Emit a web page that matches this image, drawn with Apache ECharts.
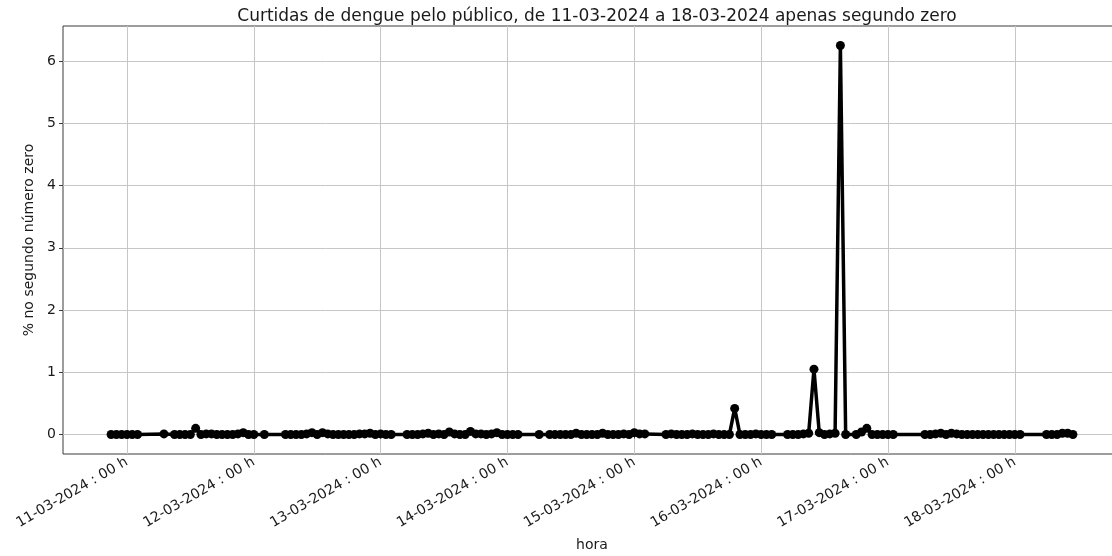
<!DOCTYPE html>
<html>
<head>
<meta charset="utf-8">
<script src="https://cdn.jsdelivr.net/npm/echarts@6/dist/echarts.min.js"></script>
<style>
  html, body { margin: 0; padding: 0; background: #ffffff; }
  #chart { width: 1112px; height: 556px; }
</style>
</head>
<body>
<div id="chart"></div>
<script>
// Hourly readings, "DD-MM-YYYY HH", with the night hours that have no data left out.
const horas = [
  '10-03-2024 21','10-03-2024 22','10-03-2024 23','11-03-2024 00','11-03-2024 01','11-03-2024 02',
  '11-03-2024 07',
  '11-03-2024 09','11-03-2024 10','11-03-2024 11','11-03-2024 12','11-03-2024 13','11-03-2024 14',
  '11-03-2024 15','11-03-2024 16','11-03-2024 17','11-03-2024 18','11-03-2024 19','11-03-2024 20',
  '11-03-2024 21','11-03-2024 22','11-03-2024 23','12-03-2024 00',
  '12-03-2024 02',
  '12-03-2024 06','12-03-2024 07','12-03-2024 08','12-03-2024 09','12-03-2024 10','12-03-2024 11',
  '12-03-2024 12','12-03-2024 13','12-03-2024 14','12-03-2024 15','12-03-2024 16','12-03-2024 17',
  '12-03-2024 18','12-03-2024 19','12-03-2024 20','12-03-2024 21','12-03-2024 22','12-03-2024 23',
  '13-03-2024 00','13-03-2024 01','13-03-2024 02',
  '13-03-2024 05','13-03-2024 06','13-03-2024 07','13-03-2024 08','13-03-2024 09','13-03-2024 10',
  '13-03-2024 11','13-03-2024 12','13-03-2024 13','13-03-2024 14','13-03-2024 15','13-03-2024 16',
  '13-03-2024 17','13-03-2024 18','13-03-2024 19','13-03-2024 20','13-03-2024 21','13-03-2024 22',
  '13-03-2024 23','14-03-2024 00','14-03-2024 01','14-03-2024 02',
  '14-03-2024 06',
  '14-03-2024 08','14-03-2024 09','14-03-2024 10','14-03-2024 11','14-03-2024 12','14-03-2024 13',
  '14-03-2024 14','14-03-2024 15','14-03-2024 16','14-03-2024 17','14-03-2024 18','14-03-2024 19',
  '14-03-2024 20','14-03-2024 21','14-03-2024 22','14-03-2024 23','15-03-2024 00','15-03-2024 01',
  '15-03-2024 02',
  '15-03-2024 06','15-03-2024 07','15-03-2024 08','15-03-2024 09','15-03-2024 10','15-03-2024 11',
  '15-03-2024 12','15-03-2024 13','15-03-2024 14','15-03-2024 15','15-03-2024 16','15-03-2024 17',
  '15-03-2024 18','15-03-2024 19','15-03-2024 20','15-03-2024 21','15-03-2024 22','15-03-2024 23',
  '16-03-2024 00','16-03-2024 01','16-03-2024 02',
  '16-03-2024 05','16-03-2024 06','16-03-2024 07','16-03-2024 08','16-03-2024 09','16-03-2024 10',
  '16-03-2024 11','16-03-2024 12','16-03-2024 13','16-03-2024 14','16-03-2024 15','16-03-2024 16',
  '16-03-2024 18','16-03-2024 19','16-03-2024 20','16-03-2024 21','16-03-2024 22','16-03-2024 23',
  '17-03-2024 00','17-03-2024 01',
  '17-03-2024 07','17-03-2024 08','17-03-2024 09','17-03-2024 10','17-03-2024 11','17-03-2024 12',
  '17-03-2024 13','17-03-2024 14','17-03-2024 15','17-03-2024 16','17-03-2024 17','17-03-2024 18',
  '17-03-2024 19','17-03-2024 20','17-03-2024 21','17-03-2024 22','17-03-2024 23','18-03-2024 00',
  '18-03-2024 01',
  '18-03-2024 06','18-03-2024 07','18-03-2024 08','18-03-2024 09','18-03-2024 10','18-03-2024 11'
];

// Share (%) of sightings where the seconds field reads zero, one per hour above.
const percentuais = [
  0, 0, 0, 0, 0, 0,
  0.01,
  0, 0, 0, 0, 0.1, 0,
  0.01, 0.01, 0, 0, 0, 0,
  0.01, 0.03, 0, 0,
  0,
  0, 0, 0, 0, 0.01, 0.03,
  0, 0.03, 0.01, 0, 0, 0,
  0, 0, 0.01, 0.01, 0.02, 0,
  0.01, 0, 0,
  0, 0, 0, 0.01, 0.02, 0,
  0.01, 0, 0.04, 0.01, 0, 0,
  0.05, 0.01, 0.01, 0, 0.01, 0.03,
  0, 0, 0, 0,
  0,
  0, 0, 0, 0, 0, 0.02,
  0, 0, 0, 0, 0.02, 0,
  0, 0, 0.01, 0, 0.03, 0.01,
  0.01,
  0, 0.01, 0, 0, 0, 0.01,
  0, 0, 0, 0.01, 0, 0,
  0, 0.42, 0, 0, 0, 0.01,
  0, 0, 0,
  0, 0, 0, 0.01, 0.02, 1.05,
  0.03, 0, 0.01, 0.02, 6.25, 0,
  0, 0.04, 0.1, 0, 0, 0,
  0, 0,
  0, 0, 0.01, 0.02, 0, 0.02,
  0.01, 0, 0, 0, 0, 0,
  0, 0, 0, 0, 0, 0,
  0,
  0, 0, 0, 0.02, 0.02, 0
];

// Days marked on the horizontal axis (midnight of each)
const diasMarcados = ['11-03-2024', '12-03-2024', '13-03-2024', '14-03-2024',
                      '15-03-2024', '16-03-2024', '17-03-2024', '18-03-2024'];

const yTicks = [0, 1, 2, 3, 4, 5, 6];

function parseHora(s) {
  const [d, m, rest] = s.split('-');
  const [y, h] = rest.split(' ');
  return new Date(+y, +m - 1, +d, h === undefined ? 0 : +h, 0, 0).getTime();
}

function pad(n) { return String(n).padStart(2, '0'); }

function formatDia(v) {
  const dt = new Date(v);
  return pad(dt.getDate()) + '-' + pad(dt.getMonth() + 1) + '-' + dt.getFullYear() +
         ' : ' + pad(dt.getHours()) + ' h';
}

const pontos = horas.map((h, i) => [parseHora(h), percentuais[i]]);
const tickTimes = diasMarcados.map(parseHora);

// 5% padding on each side of the data span, on both axes
const tMin = pontos[0][0], tMax = pontos[pontos.length - 1][0];
const tPad = (tMax - tMin) * 0.05;
const vMax = Math.max(...percentuais), vMin = Math.min(...percentuais);
const vPad = (vMax - vMin) * 0.05;

const FONT = 'DejaVu Sans';
const chart = echarts.init(document.getElementById('chart'), null, { renderer: 'canvas' });

chart.setOption({
  animation: false,
  backgroundColor: '#ffffff',
  title: {
    text: 'Curtidas de dengue pelo público, de 11-03-2024 a 18-03-2024 apenas segundo zero',
    left: 592,
    textAlign: 'center',
    top: 3,
    textStyle: { fontFamily: FONT, fontSize: 17, fontWeight: 'normal', color: '#1a1a1a' }
  },
  // the plot frame runs a little past the right edge of the canvas
  grid: {
    left: 63, top: 26, width: 1058, bottom: 102,
    outerBoundsMode: 'none',
    containLabel: false,
    show: true, borderColor: '#3a3a3a', borderWidth: 1, backgroundColor: 'transparent'
  },
  xAxis: {
    type: 'value',
    min: tMin - tPad,
    max: tMax + tPad,
    name: 'hora',
    nameLocation: 'middle',
    nameGap: 84,
    nameTextStyle: { fontFamily: FONT, fontSize: 14, color: '#1a1a1a' },
    axisLine: { show: false },
    axisTick: { show: true, length: 4, lineStyle: { color: '#3a3a3a' }, customValues: tickTimes },
    axisLabel: {
      customValues: tickTimes,
      rotate: 30,
      margin: 7,
      fontFamily: FONT, fontSize: 14, color: '#1a1a1a',
      formatter: formatDia,
      hideOverlap: false
    },
    splitLine: { show: true, lineStyle: { color: '#c6c6c6', width: 1 } }
  },
  yAxis: {
    type: 'value',
    min: vMin - vPad,
    max: vMax + vPad,
    name: '% no segundo número zero',
    nameLocation: 'middle',
    nameGap: 21,
    nameTextStyle: { fontFamily: FONT, fontSize: 14, color: '#1a1a1a' },
    axisLine: { show: false },
    axisTick: { show: true, length: 4, lineStyle: { color: '#3a3a3a' }, customValues: yTicks },
    axisLabel: {
      customValues: yTicks,
      margin: 7,
      fontFamily: FONT, fontSize: 14, color: '#1a1a1a'
    },
    splitLine: { show: true, lineStyle: { color: '#c6c6c6', width: 1 } }
  },
  series: [{
    type: 'line',
    data: pontos,
    symbol: 'circle',
    symbolSize: 9,
    showAllSymbol: true,
    lineStyle: { color: '#000000', width: 3.5 },
    itemStyle: { color: '#000000' },
    emphasis: { disabled: true },
    z: 5
  }]
});
</script>
</body>
</html>
